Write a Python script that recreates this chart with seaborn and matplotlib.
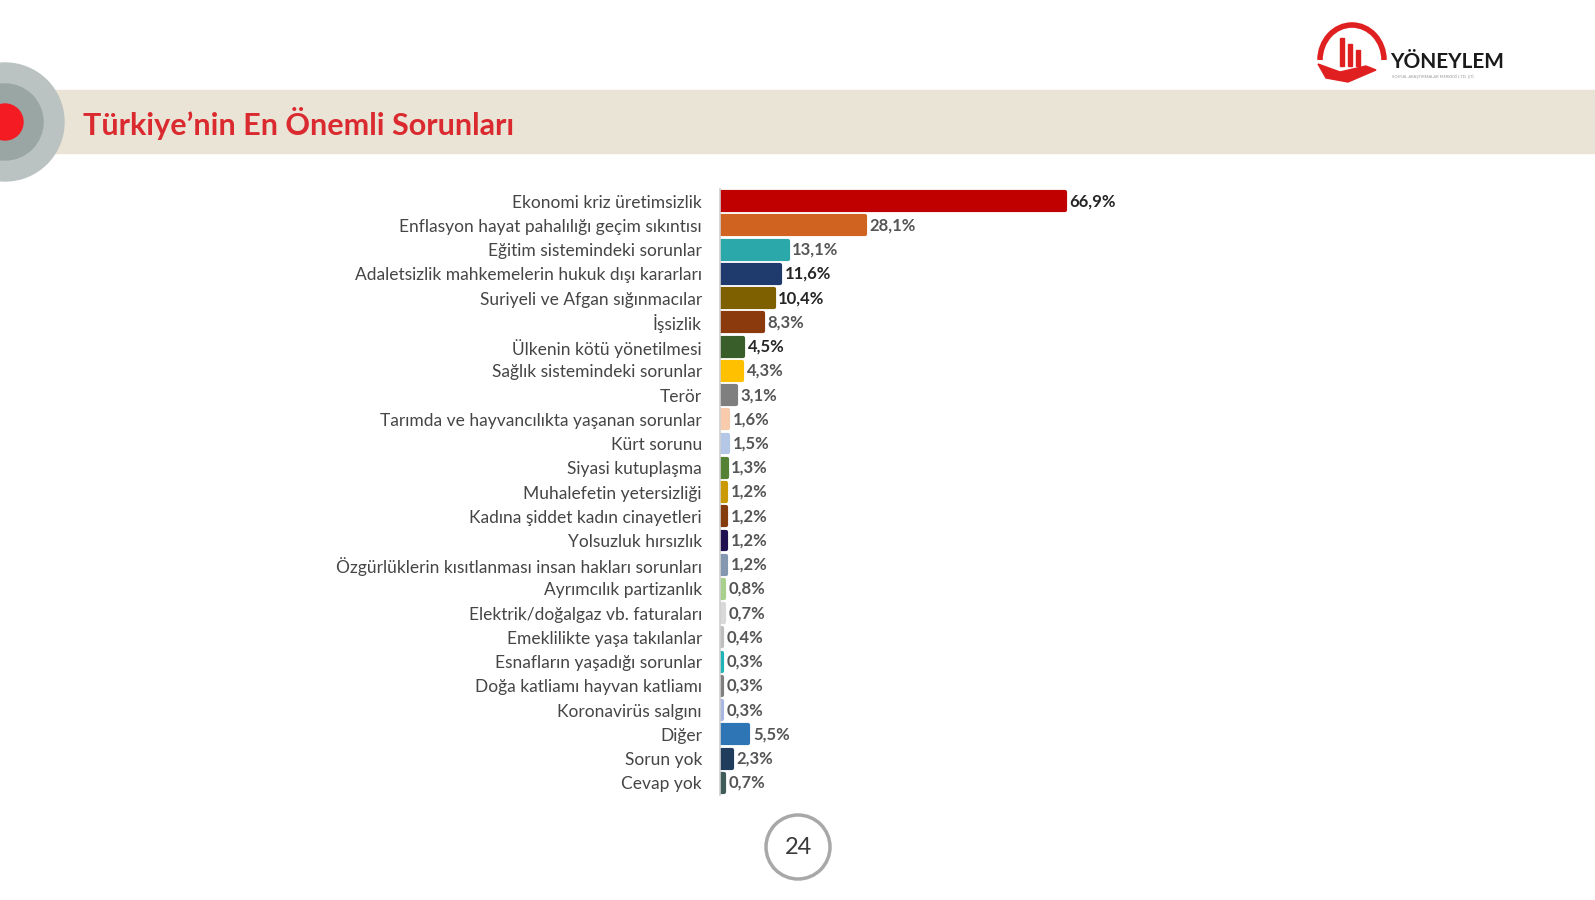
import matplotlib
matplotlib.use("Agg")
import matplotlib.pyplot as plt
from matplotlib.patches import Rectangle, Circle, Arc, Polygon
import seaborn as sns
import pandas as pd

categories = [
    "Ekonomi kriz üretimsizlik",
    "Enflasyon hayat pahalılığı geçim sıkıntısı",
    "Eğitim sistemindeki sorunlar",
    "Adaletsizlik mahkemelerin hukuk dışı kararları",
    "Suriyeli ve Afgan sığınmacılar",
    "İşsizlik",
    "Ülkenin kötü yönetilmesi",
    "Sağlık sistemindeki sorunlar",
    "Terör",
    "Tarımda ve hayvancılıkta yaşanan sorunlar",
    "Kürt sorunu",
    "Siyasi kutuplaşma",
    "Muhalefetin yetersizliği",
    "Kadına şiddet kadın cinayetleri",
    "Yolsuzluk hırsızlık",
    "Özgürlüklerin kısıtlanması insan hakları sorunları",
    "Ayrımcılık partizanlık",
    "Elektrik/doğalgaz vb. faturaları",
    "Emeklilikte yaşa takılanlar",
    "Esnafların yaşadığı sorunlar",
    "Doğa katliamı hayvan katliamı",
    "Koronavirüs salgını",
    "Diğer",
    "Sorun yok",
    "Cevap yok",
]
values = [66.9, 28.1, 13.1, 11.6, 10.4, 8.3, 4.5, 4.3, 3.1, 1.6, 1.5, 1.3,
          1.2, 1.2, 1.2, 1.2, 0.8, 0.7, 0.4, 0.3, 0.3, 0.3, 5.5, 2.3, 0.7]
bar_colors = ["#C00000", "#D0631F", "#2BA9AA", "#1F3B6E", "#7F6000", "#8B3A0E",
              "#3A5E2A", "#FFC000", "#7F7F7F", "#F8CBAD", "#B4C7E7", "#548235",
              "#C99A06", "#843C0C", "#21104F", "#8497B0", "#A9D18E", "#D9D9D9",
              "#BFBFBF", "#1FB5B8", "#808080", "#AAB7E3", "#2E75B6", "#203D5E",
              "#3E5C58"]
dark_labels = {0, 3, 4, 6}

df = pd.DataFrame({"sorun": categories, "oran": values})

sns.set_style("white")
plt.rcParams["font.family"] = ["Lato", "DejaVu Sans"]

fig = plt.figure(figsize=(15.95, 9), dpi=100)

# page decoration (pixel coordinates)
bg = fig.add_axes([0, 0, 1, 1])
bg.set_xlim(0, 1595)
bg.set_ylim(900, 0)
bg.axis("off")
bg.add_patch(Rectangle((55, 90), 1540, 63, color="#E9E4D5", zorder=1))
bg.add_patch(Circle((5, 122), 59, color="#BAC3C1", zorder=2))
bg.add_patch(Circle((5, 122), 38, color="#99A6A4", zorder=3))
bg.add_patch(Circle((5, 122), 18, color="#F41C22", zorder=4))
bg.text(83, 124, "Türkiye’nin En Önemli Sorunları", color="#DA2A30",
        fontsize=22, fontweight="bold", va="center", ha="left", zorder=5)

# logo
bg.add_patch(Arc((1352, 60), 64, 70, theta1=180, theta2=360, color="#E02020",
                 lw=4, zorder=5))
for bx, bh in [(1340, 28), (1348, 22), (1356, 16)]:
    bg.add_patch(Rectangle((bx, 66 - bh), 4, bh, color="#E02020", zorder=5))
bg.add_patch(Polygon([[1318, 64], [1340, 72], [1366, 66], [1376, 70],
                      [1348, 82], [1326, 78]], color="#E02020", zorder=5))
bg.text(1390, 62, "YÖNEYLEM", color="#1A1A1A", fontsize=15, fontweight="bold",
        ha="left", va="center", zorder=5)
bg.text(1392, 77, "SOSYAL ARAŞTIRMALAR MERKEZİ LTD. ŞTİ.", color="#999999",
        fontsize=3, ha="left", va="center", zorder=5)

# page number
bg.add_patch(Circle((798, 847), 32, fill=False, ec="#A8A8A8", lw=2.5, zorder=5))
bg.text(798, 848, "24", color="#3A3A3A", fontsize=17, ha="center", va="center",
        zorder=6)

# chart
ax = fig.add_axes([720 / 1595, 105 / 900, 420 / 1595, 606 / 900])
sns.barplot(data=df, y="sorun", x="oran", hue="sorun", palette=bar_colors,
            saturation=1, legend=False, width=0.74, ax=ax, orient="h")
for patch, c in zip(ax.patches, bar_colors):
    patch.set_edgecolor(c)
    patch.set_linewidth(3)
    patch.set_joinstyle("round")

ax.set_xlim(0, 81.5)
ax.set_ylim(24.5, -0.5)
ax.set_xlabel("")
ax.set_ylabel("")
ax.set_xticks([])
ax.tick_params(axis="y", length=0, pad=13, labelsize=12.5, labelcolor="#454545")
for s in ["top", "right", "bottom"]:
    ax.spines[s].set_visible(False)
ax.spines["left"].set_color("#D0D0D0")
ax.spines["left"].set_linewidth(1.2)

for i, (v, patch) in enumerate(zip(values, ax.patches)):
    txt = f"{v:.1f}%".replace(".", ",")
    col = "#262626" if i in dark_labels else "#555555"
    ax.text(patch.get_x() + patch.get_width() + 0.9,
            patch.get_y() + patch.get_height() / 2, txt,
            va="center", ha="left", fontsize=12, fontweight="bold", color=col)

fig.savefig("out.png", dpi=100)
